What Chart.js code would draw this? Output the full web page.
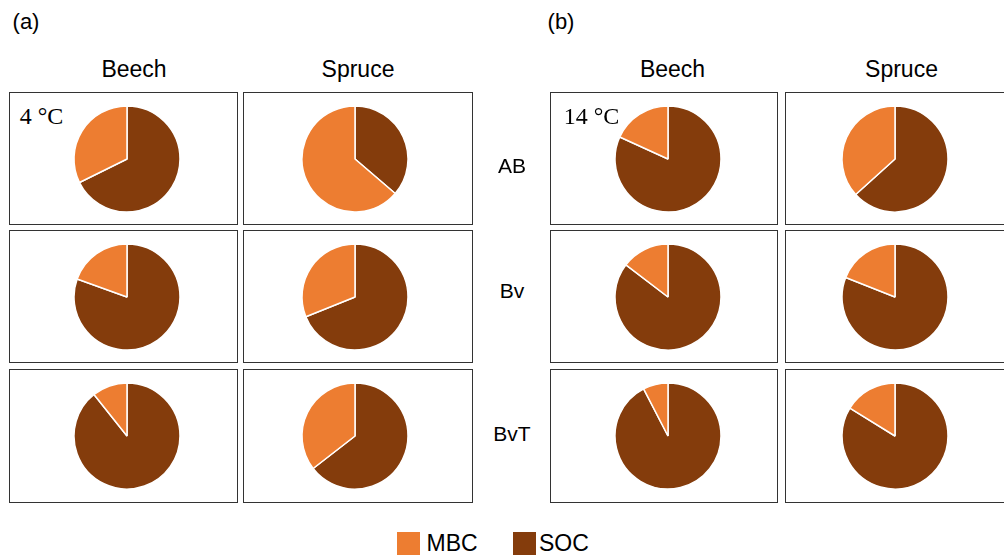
<!DOCTYPE html>
<html>
<head>
<meta charset="utf-8">
<script src="https://cdn.jsdelivr.net/npm/chart.js@4/dist/chart.umd.min.js"></script>
<style>
  html, body { margin: 0; padding: 0; background: #fff; }
  #stage { position: relative; width: 1004px; height: 558px; overflow: hidden; background: #fff; }
  .box { position: absolute; box-sizing: border-box; border: 1px solid #333; }
  .txt { position: absolute; line-height: 1; white-space: nowrap; color: #000;
         font-family: "Liberation Sans", Arial, sans-serif; transform: translate(-50%, -50%); }
  .serif { font-family: "Liberation Serif", "Times New Roman", serif; }
  .pie { position: absolute; width: 112px; height: 112px; }
  .swatch { position: absolute; width: 23px; height: 23px; }
  .leg { position: absolute; line-height: 1; font-family: "Liberation Sans", Arial, sans-serif;
         font-size: 23px; color: #000; transform: translateY(-50%); }
</style>
</head>
<body>
<div id="stage"></div>
<script>
// Soil horizons (rows) and forest types (columns)
const horizons = ['AB', 'Bv', 'BvT'];
const forests = ['Beech', 'Spruce'];
const components = ['SOC', 'MBC'];

// Share of carbon pools (%) per horizon, incubation at 4 °C
const mbc4Beech  = [32.3, 19.5, 10.7];
const soc4Beech  = [67.7, 80.5, 89.3];
const mbc4Spruce = [63.7, 31.1, 35.5];
const soc4Spruce = [36.3, 68.9, 64.5];

// Share of carbon pools (%) per horizon, incubation at 14 °C
const mbc14Beech  = [18.2, 14.6, 7.6];
const soc14Beech  = [81.8, 85.4, 92.4];
const mbc14Spruce = [36.7, 19.0, 16.2];
const soc14Spruce = [63.3, 81.0, 83.8];

const COLOR_MBC = '#ED7D31';
const COLOR_SOC = '#843C0C';

const stage = document.getElementById('stage');

function el(cls, css, text) {
  const d = document.createElement('div');
  d.className = cls;
  Object.assign(d.style, css);
  if (text !== undefined) d.textContent = text;
  stage.appendChild(d);
  return d;
}

// Frame layout: column edges per panel and row edges
const rowTops = [92, 230, 369];
const rowHeights = [133, 133, 134];
const panels = [
  { tag: '(a)', tagX: 26, temp: '4 °C', tempX: 41.5,
    cols: [{ left: 9, width: 229 }, { left: 243, width: 230 }],
    pieX: [127, 355], headX: [134, 358],
    mbc: [mbc4Beech, mbc4Spruce], soc: [soc4Beech, soc4Spruce] },
  { tag: '(b)', tagX: 561, temp: '14 °C', tempX: 591.5,
    cols: [{ left: 550, width: 228 }, { left: 785, width: 240 }],
    pieX: [668, 895], headX: [672.5, 901.5],
    mbc: [mbc14Beech, mbc14Spruce], soc: [soc14Beech, soc14Spruce] }
];
const pieY = [158.8, 296.7, 435.5];
const rowLabelY = [164.5, 290, 432.5];

panels.forEach(p => {
  el('txt', { left: p.tagX + 'px', top: '21.5px', fontSize: '22px' }, p.tag);
  forests.forEach((f, c) => {
    el('txt', { left: p.headX[c] + 'px', top: '68.5px', fontSize: '23px' }, f);
  });
  horizons.forEach((h, r) => {
    p.cols.forEach((col, c) => {
      el('box', { left: col.left + 'px', top: rowTops[r] + 'px',
                  width: col.width + 'px', height: rowHeights[r] + 'px' });
      const holder = el('pie', { left: (p.pieX[c] - 56) + 'px', top: (pieY[r] - 56) + 'px' });
      const canvas = document.createElement('canvas');
      canvas.width = 112; canvas.height = 112;
      holder.appendChild(canvas);
      new Chart(canvas, {
        type: 'pie',
        data: {
          labels: components,
          datasets: [{
            data: [p.soc[c][r], p.mbc[c][r]],
            backgroundColor: [COLOR_SOC, COLOR_MBC],
            borderColor: '#ffffff',
            borderWidth: 1.5,
            radius: 53
          }]
        },
        options: {
          responsive: false,
          animation: false,
          events: [],
          layout: { padding: 0 },
          plugins: { legend: { display: false }, tooltip: { enabled: false } }
        }
      });
    });
  });
  el('txt serif', { left: p.tempX + 'px', top: '116px', fontSize: '24px' }, p.temp);
});

// Horizon labels between the two panels
horizons.forEach((h, r) => {
  el('txt', { left: '512px', top: rowLabelY[r] + 'px', fontSize: '21px' }, h);
});

// Legend
el('swatch', { left: '397px', top: '532px', background: COLOR_MBC });
el('leg', { left: '426.5px', top: '543px' }, 'MBC');
el('swatch', { left: '513px', top: '532px', background: COLOR_SOC });
el('leg', { left: '539px', top: '543px' }, 'SOC');
</script>
</body>
</html>
